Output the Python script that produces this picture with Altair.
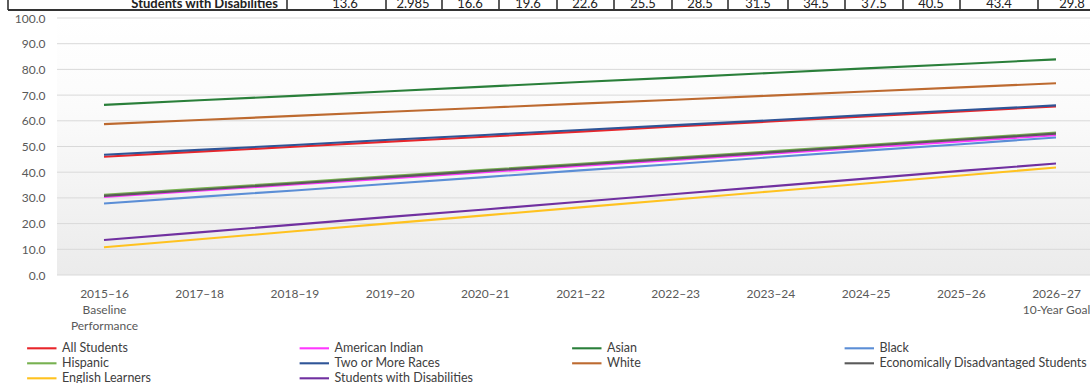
import altair as alt
import pandas as pd

# ---- data -------------------------------------------------------------
years = ["2015–16", "2017–18", "2018–19", "2019–20", "2020–21", "2021–22",
         "2022–23", "2023–24", "2024–25", "2025–26", "2026–27"]
year_sublabels = {"2015–16": ["Baseline", "Performance"],
                  "2026–27": ["10-Year Goal"]}

groups = ["All Students", "American Indian", "Asian", "Black",
          "Hispanic", "Two or More Races", "White", "Economically Disadvantaged Students",
          "English Learners", "Students with Disabilities"]
colors = ["#E8262B", "#FF38FF", "#2A7F3A", "#5B8ED6",
          "#77B150", "#2F5597", "#BD6A30", "#5A5A5A",
          "#FFC21F", "#7030A0"]

all_students = [46.0, 48.0, 49.9, 51.9, 53.8, 55.8, 57.8, 59.7, 61.7, 63.6, 65.6]
american_indian = [30.4, 32.8, 35.2, 37.6, 40.0, 42.4, 44.8, 47.2, 49.6, 52.0, 54.4]
asian = [66.2, 68.0, 69.7, 71.5, 73.3, 75.1, 76.8, 78.6, 80.4, 82.1, 83.9]
black = [27.8, 30.4, 32.9, 35.5, 38.1, 40.7, 43.2, 45.8, 48.4, 50.9, 53.5]
hispanic = [31.2, 33.6, 36.0, 38.5, 40.9, 43.3, 45.7, 48.1, 50.6, 53.0, 55.4]
two_or_more = [46.8, 48.7, 50.6, 52.6, 54.5, 56.4, 58.3, 60.2, 62.2, 64.1, 66.0]
white = [58.7, 60.3, 61.9, 63.5, 65.1, 66.7, 68.2, 69.8, 71.4, 73.0, 74.6]
econ_disadv = [30.8, 33.2, 35.6, 38.1, 40.5, 42.9, 45.3, 47.7, 50.2, 52.6, 55.0]
english_learners = [10.8, 13.9, 17.0, 20.1, 23.2, 26.3, 29.4, 32.5, 35.6, 38.7, 41.8]
students_disab = [13.6, 16.6, 19.6, 22.6, 25.5, 28.5, 31.5, 34.5, 37.5, 40.5, 43.4]
swd_annual_step = "2.985"
swd_total_gain = "29.8"

grid_ticks = [0, 10, 20, 30, 40, 50, 60, 70, 80, 90, 100]

series = [all_students, american_indian, asian, black, hispanic,
          two_or_more, white, econ_disadv, english_learners, students_disab]

# ---- layout constants (pixels) ---------------------------------------
LEFT, TOP = 57, 18
PLOT_W, PLOT_H = 1033, 257
FONT = "Lato"
AXIS_GRAY = "#595959"

# table strip above the chart (absolute page pixels)
table_label_right = 278
table_centers = [345, 413, 470, 528, 585, 643, 700, 758, 816, 874, 931, 999, 1072]
table_separators = [8, 287, 386, 442, 499, 557, 614, 672, 728, 788, 845, 903, 960, 1038]

# ---- frames -----------------------------------------------------------
rows = []
for g, vals in zip(groups, series):
    for yr, v in zip(years, vals):
        rows.append({"year": yr, "group": g, "value": v})
lines_df = pd.DataFrame(rows)

table_texts = ([f"{students_disab[0]:.1f}", swd_annual_step]
               + [f"{v:.1f}" for v in students_disab[1:]] + [swd_total_gain])
table_df = pd.DataFrame({"text": table_texts,
                         "px": [c - LEFT for c in table_centers]})
sep_df = pd.DataFrame({"px": [s - LEFT for s in table_separators]})

# x-axis label expression: extra lines under first and last year
parts = []
for yr, extra in year_sublabels.items():
    arr = ",".join("'" + t + "'" for t in [yr] + extra)
    parts.append(f"datum.value == '{yr}' ? [{arr}] : ")
label_expr = "".join(parts) + "datum.label"

x_scale = alt.Scale(type="point", domain=years, range=[47, 999], padding=0)
y_scale = alt.Scale(domain=[0, 100], nice=False)
y_axis = alt.Axis(values=grid_ticks, format=".1f", grid=False, ticks=False,
                  tickSize=0, domain=False, labelPadding=12,
                  labelFontSize=12, labelFont=FONT, labelColor=AXIS_GRAY)

# ---- layers -----------------------------------------------------------
background = alt.Chart(pd.DataFrame({"a": [0]})).mark_rect(
    fill=alt.LinearGradient(
        gradient="linear",
        stops=[alt.GradientStop(color="#ffffff", offset=0),
               alt.GradientStop(color="#fbfbfb", offset=0.35),
               alt.GradientStop(color="#ebebeb", offset=1)],
        x1=0, x2=0, y1=0, y2=1),
).encode(x=alt.value(0), x2=alt.value("width"), y=alt.value(0), y2=alt.value("height"))

grid = alt.Chart(pd.DataFrame({"tick": grid_ticks})).mark_rule(
    color="#d9d9d9", strokeWidth=1
).encode(
    y=alt.Y("tick:Q", scale=y_scale, title=None, axis=y_axis),
    x=alt.value(0), x2=alt.value("width"),
)

lines = alt.Chart(lines_df).mark_line(strokeWidth=2.1).encode(
    x=alt.X("year:N", scale=x_scale, sort=years, title=None,
            axis=alt.Axis(labelAngle=0, ticks=False, tickSize=0, domain=False,
                          labelPadding=13, labelFontSize=12, labelFont=FONT,
                          labelColor=AXIS_GRAY, labelLineHeight=16.4,
                          labelExpr=label_expr, grid=False)),
    y=alt.Y("value:Q", scale=y_scale, title=None, axis=y_axis),
    color=alt.Color("group:N", sort=groups,
                    scale=alt.Scale(domain=groups, range=colors),
                    legend=alt.Legend(
                        title=None, orient="none", direction="horizontal",
                        legendX=-22.7, legendY=322.8,
                        columns=4, gridAlign="all", columnPadding=24.5, rowPadding=1.0,
                        symbolType="M-2.45,0H2.45", symbolSize=144, symbolStrokeWidth=2.1,
                        labelOffset=12.7, labelFontSize=12.5, labelFont=FONT,
                        labelColor="#404040", labelLimit=400)),
)

table_text = alt.Chart(table_df).mark_text(
    font=FONT, fontSize=13, color="#222222", baseline="alphabetic", align="center"
).encode(x=alt.X("px:Q", scale=None), y=alt.value(-10), text="text:N")

table_label = alt.Chart(pd.DataFrame({"t": ["Students with Disabilities"]})).mark_text(
    font=FONT, fontSize=13, fontWeight="bold", color="#222222",
    baseline="alphabetic", align="right"
).encode(x=alt.value(table_label_right - LEFT), y=alt.value(-10), text="t:N")

table_seps = alt.Chart(sep_df).mark_rule(color="#333333", strokeWidth=1.6).encode(
    x=alt.X("px:Q", scale=None), y=alt.value(-TOP), y2=alt.value(-8))

table_bottom = alt.Chart(pd.DataFrame({"a": [0]})).mark_rule(
    color="#333333", strokeWidth=2
).encode(x=alt.value(8 - LEFT), x2=alt.value(PLOT_W), y=alt.value(-8))

chart = alt.layer(
    background, grid, lines, table_text, table_label, table_seps, table_bottom
).properties(
    width=PLOT_W, height=PLOT_H,
    autosize=alt.AutoSizeParams(type="none"),
    padding={"left": LEFT, "top": TOP, "right": 0, "bottom": 383 - TOP - PLOT_H},
    background="white",
).configure_view(stroke=None).configure_legend(padding=0, offset=0)

chart.save("out.html", embed_options={"renderer": "svg", "actions": False})
